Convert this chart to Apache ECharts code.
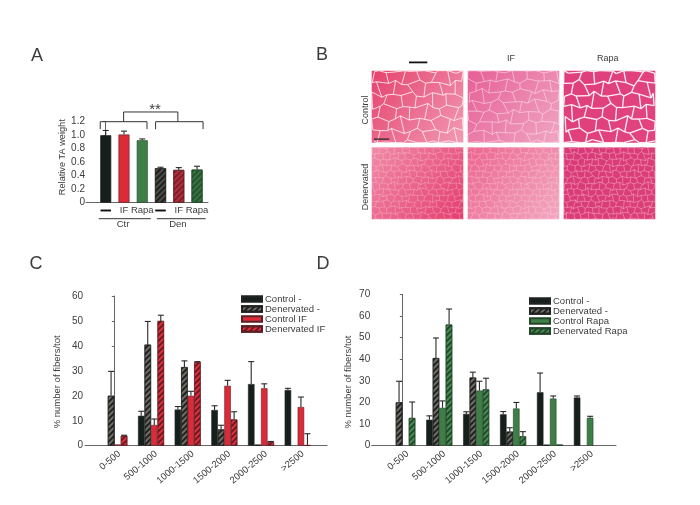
<!DOCTYPE html>
<html><head><meta charset="utf-8">
<script src="https://cdn.jsdelivr.net/npm/echarts@6/dist/echarts.min.js"></script>
<style>html,body{margin:0;background:#fff}#c{width:700px;height:505px}</style></head>
<body><div id="c"></div><script>
// Panel A
const aLabels = ['—','IF','Rapa','—','IF','Rapa'];
const aValues = [1.0,1.01,0.925,0.51,0.485,0.49];
const aTops = [1.07,1.06,0.945,0.525,0.52,0.54];
const aTicks = ['0','0.2','0.4','0.6','0.8','1.0','1.2'];
// Panels C and D
const bins = ['0-500','500-1000','1000-1500','1500-2000','2000-2500','>2500'];
const ctrl = [null,12,14.5,14.3,24.7,22.3];
const ctrlTop = [null,13.8,15.7,16,33.7,23];
const den = [20,40.5,31.5,6.5,0.4,null];
const denTop = [29.8,49.8,34,8.2,null,null];
const ctrlIF = [0.5,8.3,20,24,23,15.5];
const ctrlIFTop = [null,10.7,21.8,26.2,24.8,19.5];
const denIF = [4,50,33.5,10.5,1.5,0.2];
const denIFTop = [4.2,52.3,33.7,13.6,1.7,4.8];
const ctrlD = [null,12,14.7,14.5,24.7,22.3];
const ctrlDTop = [null,13.8,15.7,15.8,33.6,23];
const denD = [20,40.5,31.5,6.5,0.4,null];
const denDTop = [29.8,49.8,34,8.3,null,null];
const ctrlRapa = [null,17.5,25.5,17.2,21.8,12.9];
const ctrlRapaTop = [null,20.7,29.8,20,23,13.6];
const denRapa = [12.8,56,26,4.3,0.5,null];
const denRapaTop = [20.2,63.2,31.2,6.5,null,null];
// Panel A annotations, in data units
const bracketLines = [
  [[-0.3,1.09],[-0.3,1.2],[2.26,1.2],[2.26,1.09]],
  [[2.73,1.09],[2.73,1.2],[5.33,1.2],[5.33,1.09]],
  [[0.98,1.2],[0.98,1.344],[3.95,1.344],[3.95,1.2]],
  [[-0.38,-0.237],[2.47,-0.237]],
  [[2.8,-0.237],[5.47,-0.237]]
];
const annotationTexts = [['**',2.7,1.38,15],['Ctr',0.95,-0.32,9.5],['Den',3.95,-0.32,9.5]];

const FONT = '"Liberation Sans",Arial,sans-serif', TXT = '#3c3c3c', AX = '#666';
const BLACK='#15201c', RED='#dc2a38', GREEN='#3d7f46';
const hatch = (c) => ({symbol:'rect',symbolSize:1,color:c,dashArrayX:[1,0],dashArrayY:[1.4,1.6],rotation:-Math.PI/4});
const styles = {
  ctrl:{color:BLACK,borderColor:'#222',borderWidth:.6},
  den:{color:'#6e6e68',borderColor:'#222',borderWidth:.6,decal:hatch('rgba(20,20,20,.85)')},
  red:{color:RED,borderColor:'#5a2226',borderWidth:.6},
  redH:{color:'#e0303e',borderColor:'#5a2226',borderWidth:.6,decal:hatch('rgba(90,15,25,.8)')},
  green:{color:GREEN,borderColor:'#24452a',borderWidth:.6},
  greenH:{color:'#4b8c54',borderColor:'#24452a',borderWidth:.6,decal:hatch('rgba(20,60,30,.8)')}
};
const aStyles = [styles.ctrl,styles.red,styles.green,
  {color:'#4c4c48',borderColor:'#222',borderWidth:.6,decal:hatch('rgba(20,20,20,.8)')},
  {color:'#b0303c',borderColor:'#5a2226',borderWidth:.6,decal:hatch('rgba(90,15,25,.55)')},
  {color:'#37733f',borderColor:'#24452a',borderWidth:.6,decal:hatch('rgba(20,60,30,.55)')}];

const grids = [
  {left:86,top:121.7,width:122,height:81},
  {left:85,top:296,width:242,height:149.7},
  {left:371.7,top:294.3,width:244.3,height:151.4}
];
function xAxis(idx,min,max,labels,extra){
  return {type:'value',gridIndex:idx,min,max,splitLine:{show:false},
    axisLine:{show:true,onZero:false,lineStyle:{color:AX,width:1}},axisTick:{show:false},
    axisLabel:Object.assign({color:TXT,fontFamily:FONT,fontSize:9.5,hideOverlap:false},extra)};
}
function yAxis(idx,max,interval,name,gap,padding,margin,size,fmt){
  return {type:'value',gridIndex:idx,min:0,max,interval,name,nameLocation:'middle',nameGap:gap,
    nameTextStyle:{color:TXT,fontFamily:FONT,fontSize:size,padding},splitLine:{show:false},
    axisLine:{show:true,lineStyle:{color:AX,width:1}},axisTick:{show:true,length:2.5,lineStyle:{color:AX}},
    axisLabel:{color:TXT,fontFamily:FONT,fontSize:size===9.2?10:10,margin,formatter:fmt}};
}
function errSeries(idx,tops,vals,off){
  const data=[];
  tops.forEach((t,i)=>{ if(t!=null) data.push([i+off,vals[i]==null?0:vals[i],t]); });
  return {type:'custom',xAxisIndex:idx,yAxisIndex:idx,clip:false,z:3,silent:true,data,
    encode:{x:0,y:[1,2]},
    renderItem:(p,api)=>{
      const a=api.coord([api.value(0),api.value(1)]),b=api.coord([api.value(0),api.value(2)]);
      const st={stroke:'#2a2a2a',lineWidth:1.1};
      return {type:'group',children:[
        {type:'line',shape:{x1:a[0],y1:a[1],x2:b[0],y2:b[1]},style:st},
        {type:'line',shape:{x1:b[0]-3,y1:b[1],x2:b[0]+3,y2:b[1]},style:st}]};
    }};
}
function grouped(idx,defs){
  const out=[];
  defs.forEach((d,k)=>{
    out.push({type:'bar',name:d.name,xAxisIndex:idx,yAxisIndex:idx,barWidth:6.5,barGap:0,
      itemStyle:d.style,data:d.vals.map((v,i)=>[i,v]).filter(r=>r[1]!=null),z:2,silent:true});
    out.push(errSeries(idx,d.tops,d.vals,(k-1.5)*0.178));
  });
  return out;
}
function legend(left,top,names){
  return {left,top,orient:'vertical',itemWidth:20,itemHeight:5.5,itemGap:0,selectedMode:false,icon:'rect',
    data:names,padding:0,textStyle:{color:TXT,fontFamily:FONT,fontSize:9.5,lineHeight:9,padding:[0,0,0,-2]}};
}
const series=[
  {type:'bar',xAxisIndex:0,yAxisIndex:0,barWidth:11,z:2,silent:true,
   data:aValues.map((v,i)=>({value:[i,v],itemStyle:aStyles[i]}))},
  errSeries(0,aTops,aValues,0),
  {type:'custom',xAxisIndex:0,yAxisIndex:0,clip:false,silent:true,z:3,data:bracketLines.map((_,i)=>[i]),
   encode:{x:-1,y:-1},
   renderItem:(p,api)=>({type:'polyline',shape:{points:bracketLines[p.dataIndex].map(q=>api.coord(q))},
     style:{stroke:'#333',lineWidth:1,fill:null}})},
  {type:'custom',xAxisIndex:0,yAxisIndex:0,clip:false,silent:true,z:3,data:annotationTexts.map((_,i)=>[i]),
   encode:{x:-1,y:-1},
   renderItem:(p,api)=>{const t=annotationTexts[p.dataIndex],c=api.coord([t[1],t[2]]);
     return {type:'text',x:c[0],y:c[1],style:{text:t[0],fontSize:t[3],fontFamily:FONT,fill:TXT,align:'center',verticalAlign:'middle'}};}},
  ...grouped(1,[{name:'Control -',vals:ctrl,tops:ctrlTop,style:styles.ctrl},
    {name:'Denervated -',vals:den,tops:denTop,style:styles.den},
    {name:'Control IF',vals:ctrlIF,tops:ctrlIFTop,style:styles.red},
    {name:'Denervated IF',vals:denIF,tops:denIFTop,style:styles.redH}]),
  ...grouped(2,[{name:'Control -',vals:ctrlD,tops:ctrlDTop,style:styles.ctrl},
    {name:'Denervated -',vals:denD,tops:denDTop,style:styles.den},
    {name:'Control Rapa',vals:ctrlRapa,tops:ctrlRapaTop,style:styles.green},
    {name:'Denervated Rapa',vals:denRapa,tops:denRapaTop,style:styles.greenH}])
];

// Panel B: stylised stand-ins for the micrographs (texture only, no data)
function wob(i,j,s){return Math.sin(i*1.7+j*2.3+s)+Math.sin(i*3.1-j*1.3+s*2.1)*.6;}
function micro(x,y,w,h,cols,rows,c0,c1,line,lw,seed){
  const kids=[{type:'rect',shape:{x,y,width:w,height:h},style:{fill:new echarts.graphic.LinearGradient(0,0,1,1,[{offset:0,color:c0},{offset:1,color:c1}])}}];
  const cw=w/cols,ch=h/rows,pt=(i,j)=>[
    Math.max(x,Math.min(x+w,x+i*cw+wob(i,j,seed)*cw*.28)),
    Math.max(y,Math.min(y+h,y+j*ch+wob(j,i,seed+1)*ch*.18))];
  const ln=(a,b)=>kids.push({type:'line',shape:{x1:a[0],y1:a[1],x2:b[0],y2:b[1]},style:{stroke:line,lineWidth:lw}});
  for(let j=0;j<=rows;j++)for(let i=0;i<=cols;i++){
    if(i<cols)ln(pt(i,j),pt(i+1,j));
    if(j<rows&&(i+j)%2===0)ln(pt(i,j),pt(i,j+1));
  }
  return {type:'group',silent:true,children:kids};
}
const T=(text,x,y,size,rot)=>({type:'text',x,y,rotation:rot||0,style:{text,fontSize:size,fontFamily:FONT,fill:TXT,align:'center',verticalAlign:'middle'}});
const colX=[371.7,467.7,563.7],rowY=[70.7,147.3];
const graphic=[
  micro(colX[0],rowY[0],91.6,72,12,6,'#e5426c','#f29ab4','rgba(255,240,245,.85)',1,1),
  micro(colX[1],rowY[0],91.6,72,12,7,'#e65f96','#f0a6c2','rgba(255,235,245,.65)',.8,2.4),
  micro(colX[2],rowY[0],91.6,72,12,6,'#df3f7c','#e2447f','rgba(255,245,250,.95)',1.3,3.7),
  micro(colX[0],rowY[1],91.6,72,24,12,'#f08aa8','#e43e6e','rgba(255,225,235,.4)',.7,5),
  micro(colX[1],rowY[1],91.6,72,24,12,'#ec6690','#f2a8c0','rgba(255,230,240,.4)',.7,6.2),
  micro(colX[2],rowY[1],91.6,72,26,12,'#d93a78','#dc3f76','rgba(255,225,235,.5)',.7,7.5),
  T('A',37,56,18),T('B',322,55,18),T('C',36,264,18),T('D',323,264,18),
  T('IF',511,59,9),T('Rapa',607.7,59,9),
  T('Control',365.5,110,9,Math.PI/2),T('Denervated',365.5,187,9,Math.PI/2),
  {type:'rect',shape:{x:409,y:61.5,width:18.3,height:1.8},style:{fill:'#111'}},
  {type:'rect',shape:{x:374,y:138.5,width:15.3,height:1.2},style:{fill:'#222'}}
];
const rotated={rotate:40,margin:7,customValues:bins.map((_,i)=>i+0.14),formatter:v=>bins[Math.floor(v)]};
const option={animation:false,backgroundColor:'#fff',textStyle:{fontFamily:FONT},
  grid:grids,
  xAxis:[
    xAxis(0,-1.08,5.6,aLabels,{customValues:[0,1,2,3,4,5],margin:3,
      formatter:v=>{const s=aLabels[Math.round(v)];return s==='—'?'{d|'+s+'}':s;},
      rich:{d:{fontSize:9.5,fontFamily:FONT,fontWeight:'bold',color:'#111',textBorderColor:'#111',textBorderWidth:1}}}),
    xAxis(1,-0.8,5.8,bins,rotated),
    xAxis(2,-0.83,5.79,bins,rotated)
  ],
  yAxis:[
    yAxis(0,1.2,0.2,'Relative TA weight',15,[0,0,0,10],1,9.2,v=>aTicks[Math.round(v*5)]),
    yAxis(1,60,10,'% number of fibers/tot',23,[0,22,0,0],2,9.5),
    yAxis(2,70,10,'% number of fibers/tot',18,[0,24,0,0],1.5,9.5)
  ],
  legend:[legend(241,294,['Control -','Denervated -','Control IF','Denervated IF']),
          legend(529,296,['Control -','Denervated -','Control Rapa','Denervated Rapa'])],
  series,graphic};
echarts.init(document.getElementById('c'),null,{renderer:'canvas'}).setOption(option);
</script></body></html>
